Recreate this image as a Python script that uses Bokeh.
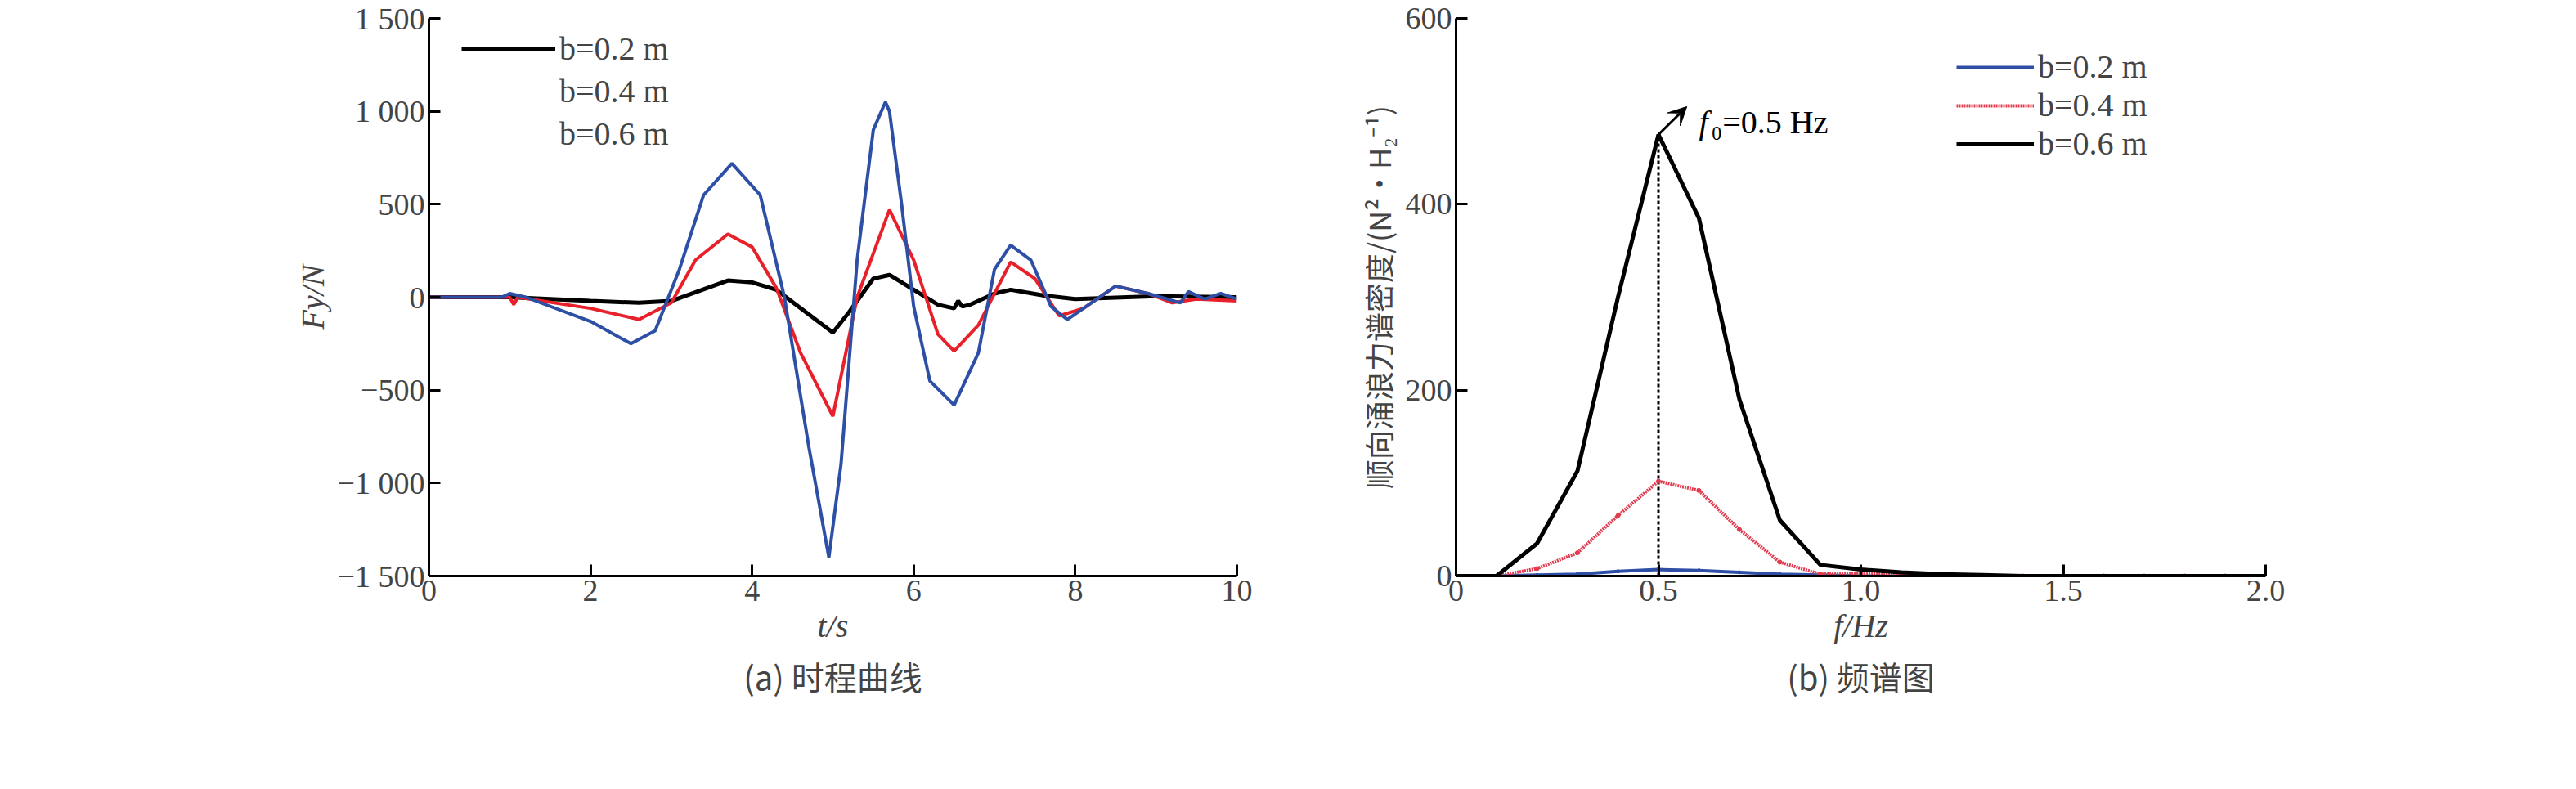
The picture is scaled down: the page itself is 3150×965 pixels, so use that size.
from bokeh.plotting import figure
from bokeh.layouts import row
from bokeh.models import FixedTicker, Legend, LegendItem, Title, Arrow, VeeHead, Range1d
from bokeh.embed import file_html
from bokeh.resources import INLINE
from bokeh.core.properties import value

# ---- panel (a) data ----
t_02 = [0,1,2,2.6,3,3.7,4,4.3,5,5.2,5.5,5.7,6,6.3,6.5,6.55,6.6,6.7,7,7.2,7.6,8,9,10]
f_02 = [0,0,-20,-30,-20,90,80,40,-190,-80,100,120,40,-40,-60,-20,-50,-40,20,40,10,-10,5,0]
t_04 = [0,1,1.05,1.1,2,2.6,3,3.3,3.7,4,4.3,4.6,5,5.3,5.7,6,6.3,6.5,6.8,7.2,7.5,7.8,8.1,8.5,8.9,9.2,9.5,10]
f_04 = [0,0,-40,0,-60,-120,-30,200,340,270,50,-300,-640,0,470,200,-200,-290,-150,190,100,-100,-60,60,20,-30,-10,-20]
t_06 = [0,0.9,1,1.2,2,2.5,2.8,3.1,3.4,3.75,4.1,4.4,4.7,4.95,5.1,5.3,5.5,5.65,5.7,5.85,6,6.2,6.5,6.8,7.0,7.2,7.45,7.7,7.9,8.2,8.5,8.9,9.3,9.4,9.6,9.8,10]
f_06 = [0,0,20,0,-130,-250,-180,150,550,720,550,0,-800,-1400,-900,200,900,1050,1000,500,-50,-450,-580,-300,150,280,200,-50,-120,-30,60,20,-30,30,-10,20,-10]
a_yticks = [-1500,-1000,-500,0,500,1000,1500]
a_ylabels = ["\u22121 500","\u22121 000","\u2212500","0","500","1 000","1 500"]
a_xticks = [0,2,4,6,8,10]

# ---- panel (b) data ----
freq = [round(0.1*i,1) for i in range(21)]
s_02 = [0,0,1,2,5,7,6,4,2,1,0,0,0,0,0,0,0,0,0,0,0]
s_04 = [0,0,8,25,65,102,92,50,15,2,3,1,0,0,0,0,0,0,0,0,0]
s_06 = [0,0,35,113,300,475,385,190,60,12,7,4,2,1,0,0,0,0,0,0,0]
b_yticks = [0,200,400,600]
b_xticks = [0,0.5,1.0,1.5,2.0]
b_xlabels = ["0","0.5","1.0","1.5","2.0"]
peak_f, peak_s = 0.5, 475

SERIF = "Liberation Serif"
CJK = "Noto Sans CJK SC"
FS = "38px"

def style(p):
    p.grid.visible = False
    p.outline_line_color = None
    for ax in (p.xaxis[0], p.yaxis[0]):
        ax.axis_line_width = 3
        ax.major_tick_line_width = 3
        ax.major_tick_in = 14
        ax.major_tick_out = 0
        ax.minor_tick_line_color = None
        ax.major_label_text_font = SERIF
        ax.major_label_text_font_size = FS
        ax.axis_label_text_font_size = "40px"
        ax.axis_label_text_font_style = "italic"
        ax.axis_label_text_font = SERIF

# ---- figure a ----
pa = figure(width=1575, height=945, output_backend="svg", toolbar_location=None,
            frame_width=988, frame_height=682, min_border_left=524, min_border_top=22,
            min_border_right=63, x_range=Range1d(0, 10), y_range=Range1d(-1500, 1500))
style(pa)
pa.yaxis.ticker = FixedTicker(ticks=a_yticks)
pa.yaxis.major_label_overrides = {k: v for k, v in zip(a_yticks, a_ylabels)}
pa.xaxis.ticker = FixedTicker(ticks=a_xticks)
pa.xaxis.axis_label = "t/s"
pa.yaxis.axis_label = "Fy/N"
r1 = pa.line(t_02, f_02, line_color="black", line_width=5)
r2 = pa.line(t_04, f_04, line_color="#e8202a", line_width=4)
r3 = pa.line(t_06, f_06, line_color="#2e4fa6", line_width=4)
ra2 = pa.line([], [], line_color="#e8202a", line_width=5, line_dash="2 2")
ra3 = pa.line([], [], line_color="#2e4fa6", line_width=6, line_dash="3 3")
leg = Legend(items=[LegendItem(label="b=0.2 m", renderers=[r1]),
                    LegendItem(label="b=0.4 m", renderers=[ra2]),
                    LegendItem(label="b=0.6 m", renderers=[ra3])],
             location=(40, 515), background_fill_alpha=0, border_line_color=None,
             label_text_font=SERIF, label_text_font_size="40px", glyph_width=115,
             label_height=52, glyph_height=52, spacing=0, padding=0)
pa.add_layout(leg)
pa.add_layout(Title(text="(a) 时程曲线", align="center", text_font=CJK,
                    text_font_size="40px", text_font_style="normal"), "below")

# ---- figure b ----
pb = figure(width=1559, height=945, output_backend="svg", toolbar_location=None,
            frame_width=990, frame_height=682, min_border_left=205, min_border_top=22,
            min_border_right=364, x_range=Range1d(0, 2.0), y_range=Range1d(0, 600))
style(pb)
pb.yaxis.ticker = FixedTicker(ticks=b_yticks)
pb.xaxis.ticker = FixedTicker(ticks=b_xticks)
pb.xaxis.major_label_overrides = {k: v for k, v in zip(b_xticks, b_xlabels)}
pb.xaxis.axis_label = "f/Hz"
pb.yaxis.axis_label = "顺向涌浪力谱密度/(N²·H₂⁻¹)"
pb.yaxis.axis_label_text_font = CJK
pb.yaxis.axis_label_text_font_style = "normal"
pb.yaxis.axis_label_text_font_size = "36px"
pb.segment(x0=[peak_f], y0=[0], x1=[peak_f], y1=[peak_s], line_color="black",
           line_width=3, line_dash="4 3")
q1 = pb.line(freq, s_02, line_color="#2e4fa6", line_width=4)
pb.scatter(freq, s_02, size=4, color="#2e4fa6")
q2 = pb.line(freq, s_04, line_color="#e23a4e", line_width=4, line_dash="2 1")
pb.scatter(freq, s_04, size=5, color="#e23a4e")
q3 = pb.line(freq, s_06, line_color="black", line_width=5)
pb.add_layout(Arrow(end=VeeHead(size=22, fill_color="black", line_color="black"),
                    x_start=peak_f, y_start=peak_s, x_end=0.57, y_end=505,
                    line_width=3))
pb.text(x=[0.6], y=[488], text=["f"], text_font=value(SERIF), text_font_style="italic",
        text_font_size="40px", text_baseline="middle")
pb.text(x=[0.63], y=[488], text=["₀=0.5 Hz"], text_font=value(SERIF),
        text_font_size="40px", text_baseline="middle")
legb = Legend(items=[LegendItem(label="b=0.2 m", renderers=[q1]),
                     LegendItem(label="b=0.4 m", renderers=[q2]),
                     LegendItem(label="b=0.6 m", renderers=[q3])],
              location=(612, 505), background_fill_alpha=0, border_line_color=None,
              label_text_font=SERIF, label_text_font_size="40px", glyph_width=95,
              label_height=46, glyph_height=46, spacing=0, padding=0)
pb.add_layout(legb)
pb.add_layout(Title(text="(b) 频谱图", align="center", text_font=CJK,
                    text_font_size="40px", text_font_style="normal"), "below")

lay = row(pa, pb)
open("out.html", "w").write(file_html(lay, INLINE))
